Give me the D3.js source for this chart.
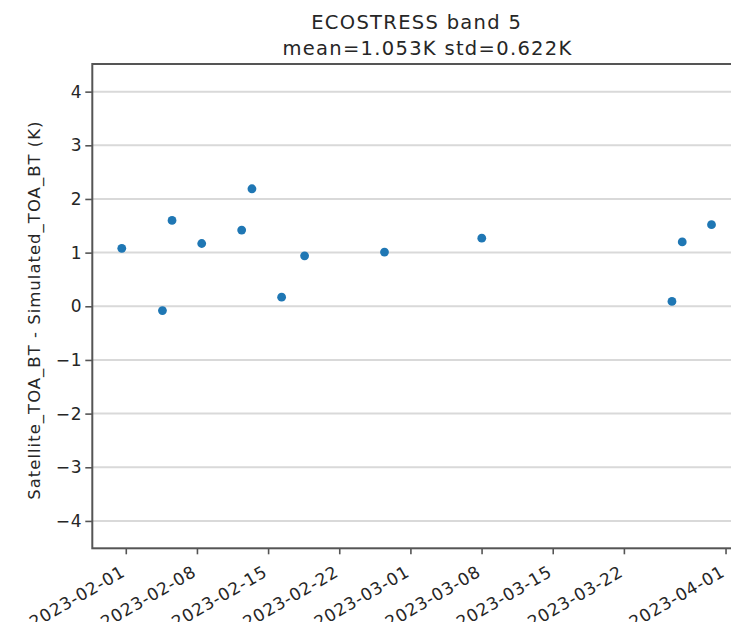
<!DOCTYPE html>
<html>
<head>
<meta charset="utf-8">
<script src="https://cdn.jsdelivr.net/npm/d3@7"></script>
<style>
  html, body { margin: 0; padding: 0; background: #fff; overflow: hidden; }
  svg { display: block; font-family: "DejaVu Sans", sans-serif; }
</style>
</head>
<body>
<svg id="chart" width="731" height="622"></svg>
<script>
// ---- data ----
const dates = [
  "2023-01-31T14:34", "2023-02-04T14:34", "2023-02-05T13:12", "2023-02-08T11:17",
  "2023-02-12T09:36", "2023-02-13T09:50", "2023-02-16T07:55", "2023-02-18T14:10",
  "2023-02-26T10:48", "2023-03-08T00:28", "2023-03-26T17:31", "2023-03-27T17:46",
  "2023-03-30T14:53"
];
const diffs = [1.08, -0.08, 1.60, 1.17, 1.42, 2.19, 0.17, 0.94, 1.01, 1.27, 0.09, 1.20, 1.52];
const yTicks = [-4, -3, -2, -1, 0, 1, 2, 3, 4];
const xTickLabels = ["2023-02-01", "2023-02-08", "2023-02-15", "2023-02-22", "2023-03-01",
                     "2023-03-08", "2023-03-15", "2023-03-22", "2023-04-01"];
const titleLine1 = "ECOSTRESS band 5";
const titleLine2 = "mean=1.053\u212A std=0.622\u212A";
const yLabel = "Satellite_TOA_BT - Simulated_TOA_BT (K)";
const yDomain = [-4.51, 4.515];

// ---- layout ----
const pL = 92.3, pR = 741, pT = 64, pB = 548.3;
const parse = d3.isoParse;
const pts = dates.map((d, i) => ({ t: parse(d), v: diffs[i] }));
const ext = d3.extent(pts, d => +d.t);
const pad = (ext[1] - ext[0]) * 0.05;

const x = d3.scaleTime().domain([new Date(ext[0] - pad), new Date(ext[1] + pad)]).range([pL, pR]);
const y = d3.scaleLinear().domain(yDomain).range([pB, pT]);

const svg = d3.select("#chart");
const txt = "#262626";

// gridlines
svg.append("g").selectAll("line").data(yTicks).join("line")
  .attr("x1", pL).attr("x2", pR)
  .attr("y1", d => y(d)).attr("y2", d => y(d))
  .attr("stroke", "#d9d9d9").attr("stroke-width", 2);

// y axis
const yAxis = svg.append("g").attr("transform", `translate(${pL},0)`)
  .call(d3.axisLeft(y).tickValues(yTicks).tickSize(7).tickPadding(3)
    .tickFormat(d => d < 0 ? "\u2212" + Math.abs(d) : String(d)));
yAxis.select(".domain").remove();
yAxis.selectAll(".tick line").attr("stroke", "#555").attr("stroke-width", 1.6);
yAxis.selectAll("text").attr("font-size", 17).attr("fill", txt)
  .attr("font-family", "DejaVu Sans").attr("letter-spacing", 0.8);

// x axis
const xTickDates = xTickLabels.map(s => parse(s));
const xAxis = svg.append("g").attr("transform", `translate(0,${pB})`)
  .call(d3.axisBottom(x).tickValues(xTickDates).tickSize(6).tickPadding(4)
    .tickFormat(d3.timeFormat("%Y-%m-%d")));
xAxis.select(".domain").remove();
xAxis.selectAll(".tick line").attr("stroke", "#555").attr("stroke-width", 1.6);
xAxis.selectAll("text")
  .attr("font-size", 17).attr("fill", txt).attr("font-family", "DejaVu Sans")
  .attr("letter-spacing", 0.8)
  .attr("text-anchor", "end")
  .attr("dy", null)
  .attr("x", 0).attr("y", 27)
  .attr("transform", "rotate(-30 0 27)");

// spines
svg.append("rect")
  .attr("x", pL).attr("y", pT)
  .attr("width", pR - pL).attr("height", pB - pT)
  .attr("fill", "none").attr("stroke", "#555").attr("stroke-width", 2);

// points
svg.append("g").selectAll("circle").data(pts).join("circle")
  .attr("cx", d => x(d.t)).attr("cy", d => y(d.v))
  .attr("r", 4.4).attr("fill", "#1f77b4");

// title
svg.append("text").attr("x", 416.7).attr("y", 29.3).attr("text-anchor", "middle")
  .attr("font-size", 19.5).attr("letter-spacing", 1.3).attr("fill", txt).text(titleLine1);
svg.append("text").attr("x", 427.5).attr("y", 55).attr("text-anchor", "middle")
  .attr("font-size", 19.5).attr("letter-spacing", 1.3).attr("fill", txt).text(titleLine2);

// y label
svg.append("text")
  .attr("transform", `translate(40,${(pT + pB) / 2 + 4}) rotate(-90)`)
  .attr("text-anchor", "middle").attr("font-size", 16.5).attr("letter-spacing", 1)
  .attr("fill", txt)
  .text(yLabel);
</script>
</body>
</html>
